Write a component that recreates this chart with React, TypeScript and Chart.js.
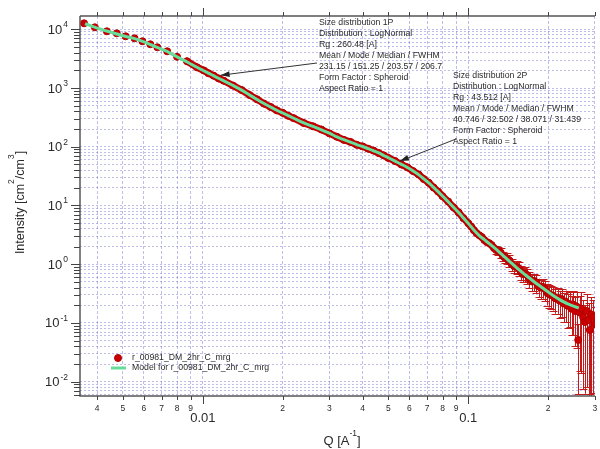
import { useEffect, useRef } from 'react';
import { Chart, registerables } from 'chart.js';

Chart.register(...registerables);

const FONT = '"Liberation Sans", Arial, Helvetica, sans-serif';

// ---- measured data (Q in 1/A, intensity in cm^2/cm^3) ----
const qLow = [0.00357, 0.00392, 0.00435, 0.00474, 0.00512, 0.00553, 0.00592, 0.00634, 0.00674, 0.00734, 0.0080, 0.00872, 0.0095, 0.0101];
const iLow = [12650, 10820, 9250, 8550, 7600, 7030, 6250, 5560, 4940, 4225, 3400, 2860, 2260, 1990];
const eLow = [0.01, 0.01, 0.01, 0.01, 0.01, 0.01, 0.01, 0.01, 0.01, 0.01, 0.01, 0.01, 0.01, 0.01];

const qMid = [0.0105, 0.011, 0.0115, 0.012, 0.013, 0.014, 0.015, 0.016, 0.017, 0.018, 0.019, 0.020, 0.021, 0.022, 0.024, 0.026, 0.028, 0.030, 0.032, 0.034, 0.036, 0.038, 0.040, 0.042, 0.044, 0.046, 0.048, 0.050, 0.053, 0.056, 0.059, 0.062, 0.065, 0.068, 0.071, 0.074, 0.077, 0.080, 0.084, 0.088, 0.092, 0.096, 0.100];
const iMid = [1790, 1620, 1450, 1330, 1100, 925, 760, 642, 543, 477, 417, 378, 336, 307, 254, 223, 196, 169, 148, 131, 121, 108, 101.5, 92.5, 86.0, 78.0, 71.5, 64.6, 57.2, 49.9, 44.6, 38.5, 33.8, 28.2, 24.4, 20.3, 17.3, 14.4, 11.7, 9.30, 7.62, 6.05, 5.00];
const eMid = [0.02, 0.02, 0.02, 0.02, 0.02, 0.02, 0.02, 0.02, 0.02, 0.02, 0.02, 0.02, 0.02, 0.02, 0.02, 0.02, 0.02, 0.02, 0.02, 0.02, 0.02, 0.02, 0.02, 0.02, 0.02, 0.02, 0.03, 0.03, 0.03, 0.03, 0.03, 0.03, 0.03, 0.03, 0.04, 0.04, 0.04, 0.04, 0.05, 0.05, 0.05, 0.06, 0.06];

const qHigh = [0.1025, 0.105, 0.1075, 0.110, 0.1125, 0.115, 0.1175, 0.120, 0.1225, 0.125, 0.1275, 0.130, 0.1325, 0.135, 0.1375, 0.140, 0.143, 0.146, 0.149, 0.152, 0.155, 0.158, 0.161, 0.164, 0.167, 0.170, 0.1735, 0.177, 0.1805, 0.184, 0.1875, 0.191, 0.1945, 0.198, 0.2015];
const iHigh = [4.40, 3.80, 3.38, 3.12, 2.90, 2.58, 2.38, 2.28, 2.12, 1.89, 1.75, 1.70, 1.58, 1.38, 1.29, 1.26, 1.16, 0.99, 0.92, 0.91, 0.85, 0.73, 0.68, 0.69, 0.65, 0.56, 0.51, 0.52, 0.49, 0.42, 0.40, 0.41, 0.38, 0.33, 0.31];
const eHigh = [0.07, 0.08, 0.08, 0.09, 0.10, 0.11, 0.12, 0.13, 0.14, 0.15, 0.16, 0.17, 0.18, 0.19, 0.20, 0.21, 0.22, 0.23, 0.24, 0.25, 0.26, 0.27, 0.28, 0.29, 0.30, 0.31, 0.32, 0.33, 0.34, 0.35, 0.36, 0.37, 0.38, 0.40, 0.41];

const qTail = [0.205, 0.209, 0.213, 0.217, 0.221, 0.225, 0.229, 0.233, 0.237, 0.241, 0.245, 0.249, 0.253, 0.256, 0.2596, 0.263, 0.267, 0.271, 0.2756, 0.280, 0.284, 0.2869, 0.291, 0.296, 0.300];
const iTail = [0.300, 0.290, 0.262, 0.270, 0.238, 0.255, 0.215, 0.230, 0.196, 0.210, 0.175, 0.205, 0.160, 0.190, 0.0513, 0.150, 0.175, 0.125, 0.104, 0.160, 0.112, 0.0759, 0.140, 0.126, 0.095];
const eTail = [0.42, 0.44, 0.45, 0.47, 0.48, 0.50, 0.52, 0.55, 0.58, 0.60, 0.65, 0.70, 0.75, 0.80, 0.88, 0.90, 0.92, 0.94, 0.94, 0.95, 0.95, 0.92, 0.96, 0.95, 0.94];

const qData = [...qLow, ...qMid, ...qHigh, ...qTail];
const iData = [...iLow, ...iMid, ...iHigh, ...iTail];
const errRel = [...eLow, ...eMid, ...eHigh, ...eTail];

// ---- model curve ----
const qModel = [0.0036, 0.004, 0.0045, 0.005, 0.0055, 0.006, 0.0065, 0.007, 0.0075, 0.008, 0.0085, 0.009, 0.0095, 0.010, 0.0105, 0.011, 0.0115, 0.012, 0.013, 0.014, 0.015, 0.016, 0.017, 0.018, 0.019, 0.020, 0.021, 0.022, 0.024, 0.026, 0.028, 0.030, 0.032, 0.034, 0.036, 0.038, 0.040, 0.042, 0.044, 0.046, 0.048, 0.050, 0.053, 0.056, 0.059, 0.062, 0.065, 0.068, 0.071, 0.074, 0.077, 0.080, 0.084, 0.088, 0.092, 0.096, 0.100, 0.105, 0.110, 0.115, 0.120, 0.125, 0.130, 0.135, 0.140, 0.146, 0.152, 0.158, 0.164, 0.170, 0.177, 0.184, 0.191, 0.198, 0.205, 0.213, 0.221, 0.229, 0.237, 0.245, 0.253, 0.261];
const iModel = [12450, 10470, 8910, 7760, 7000, 6110, 5250, 4570, 3980, 3390, 2950, 2570, 2260, 2010, 1800, 1610, 1455, 1325, 1103, 921, 763, 640, 545, 475, 419, 376, 338, 306, 255, 222, 194, 170, 147, 132, 120, 109, 101, 92.9, 85.5, 78.5, 71.1, 65.0, 56.9, 50.2, 44.3, 38.7, 33.6, 28.4, 24.2, 20.4, 17.2, 14.5, 11.6, 9.36, 7.57, 6.11, 4.96, 3.83, 3.08, 2.62, 2.24, 1.93, 1.66, 1.42, 1.22, 1.03, 0.875, 0.760, 0.662, 0.582, 0.502, 0.442, 0.393, 0.349, 0.311, 0.277, 0.250, 0.228, 0.211, 0.199, 0.189, 0.180];

// ---- axes ----
const xMin = 0.003446;
const xMax = 0.3003;
const yMin = 0.005706;
const yMax = 16850;
const xTickValues = [0.004, 0.005, 0.006, 0.007, 0.008, 0.009, 0.01, 0.02, 0.03, 0.04, 0.05, 0.06, 0.07, 0.08, 0.09, 0.1, 0.2, 0.3];
const xTickLabels = ['4', '5', '6', '7', '8', '9', '0.01', '2', '3', '4', '5', '6', '7', '8', '9', '0.1', '2', '3'];
const yDecades = [-3, -2, -1, 0, 1, 2, 3, 4];
const yMantissas = [1, 2, 3, 4, 5, 6, 7, 8, 9];
const yTicks = yDecades
  .flatMap((d) => yMantissas.map((m) => ({ value: m * Math.pow(10, d), major: m === 1 })))
  .filter((t) => t.value >= yMin && t.value <= yMax);
const yLabelDecades = [-2, -1, 0, 1, 2, 3, 4];

const legendLabels = ['r_00981_DM_2hr_C_mrg', 'Model for r_00981_DM_2hr_C_mrg'];

const annText1 = ['Size distribution 1P', 'Distribution : LogNormal', 'Rg : 260.48 [A]', 'Mean / Mode / Median / FWHM', '231.15 / 151.25 / 203.57 / 206.7', 'Form Factor : Spheroid', 'Aspect Ratio = 1'];
const annText2 = ['Size distribution 2P', 'Distribution : LogNormal', 'Rg : 43.512 [A]', 'Mean / Mode / Median / FWHM', '40.746 / 32.502 / 38.071 / 31.439', 'Form Factor : Spheroid', 'Aspect Ratio = 1'];
const annTips = [{ q: 0.01167, i: 1650 }, { q: 0.0553, i: 57 }];

const RED = '#cc0000';
const GREEN = '#66dd99';
const GRID = 'rgba(110,110,205,0.45)';
const AXIS = '#555555';
const TEXT = '#2a2a2a';

function drawParts(ctx: CanvasRenderingContext2D, parts: [string, boolean][], cx: number, y: number, mainPx: number, supPx: number, raise: number) {
  let total = 0;
  const widths = parts.map(([t, s]) => {
    ctx.font = `${s ? supPx : mainPx}px ${FONT}`;
    const w = ctx.measureText(t).width;
    total += w;
    return w;
  });
  let x = cx - total / 2;
  ctx.textAlign = 'left';
  ctx.textBaseline = 'alphabetic';
  parts.forEach(([t, s], k) => {
    ctx.font = `${s ? supPx : mainPx}px ${FONT}`;
    ctx.fillText(t, x, s ? y - raise : y);
    x += widths[k];
  });
}

function arrow(ctx: CanvasRenderingContext2D, x0: number, y0: number, x1: number, y1: number) {
  ctx.strokeStyle = '#333';
  ctx.fillStyle = '#222';
  ctx.lineWidth = 1;
  ctx.beginPath();
  ctx.moveTo(x0, y0);
  ctx.lineTo(x1, y1);
  ctx.stroke();
  const ang = Math.atan2(y1 - y0, x1 - x0);
  const L = 9;
  const W = 3;
  const bx = x1 - L * Math.cos(ang);
  const by = y1 - L * Math.sin(ang);
  ctx.beginPath();
  ctx.moveTo(x1, y1);
  ctx.lineTo(bx + W * Math.sin(ang), by - W * Math.cos(ang));
  ctx.lineTo(bx - W * Math.sin(ang), by + W * Math.cos(ang));
  ctx.closePath();
  ctx.fill();
}

const decorPlugin = {
  id: 'decor',
  beforeDatasetsDraw(chart: any) {
    const { ctx, chartArea: a } = chart;
    const xs = chart.scales.x;
    const ys = chart.scales.y;
    ctx.save();
    ctx.beginPath();
    ctx.rect(a.left, a.top, a.right - a.left, a.bottom - a.top);
    ctx.clip();
    ctx.strokeStyle = '#c41a1a';
    ctx.lineWidth = 1;
    for (let k = 0; k < qData.length; k++) {
      const v = iData[k];
      const e = v * errRel[k];
      const px = Math.round(xs.getPixelForValue(qData[k])) + 0.5;
      const top = ys.getPixelForValue(v + e);
      const bot = v - e > 0 ? ys.getPixelForValue(v - e) : a.bottom + 10;
      if (bot - top < 8) continue;
      ctx.beginPath();
      ctx.moveTo(px, top);
      ctx.lineTo(px, bot);
      ctx.moveTo(px - 4, Math.round(top) + 0.5);
      ctx.lineTo(px + 4, Math.round(top) + 0.5);
      ctx.moveTo(px - 4, Math.round(bot) + 0.5);
      ctx.lineTo(px + 4, Math.round(bot) + 0.5);
      ctx.stroke();
    }
    ctx.restore();
  },
  afterDraw(chart: any) {
    const { ctx, chartArea: a } = chart;
    const xs = chart.scales.x;
    const ys = chart.scales.y;
    ctx.save();

    // axis lines
    ctx.strokeStyle = AXIS;
    ctx.lineWidth = 1.5;
    ctx.beginPath();
    ctx.moveTo(a.left, a.top);
    ctx.lineTo(a.left, a.bottom);
    ctx.lineTo(a.right, a.bottom);
    ctx.moveTo(a.left, a.top);
    ctx.lineTo(a.right, a.top);
    ctx.stroke();

    // tick marks
    ctx.lineWidth = 1;
    ctx.strokeStyle = '#444';
    ctx.beginPath();
    xTickValues.forEach((v, k) => {
      const major = xTickLabels[k].includes('.');
      const px = Math.round(xs.getPixelForValue(v)) + 0.5;
      const len = major ? 8 : 4;
      ctx.moveTo(px, a.bottom);
      ctx.lineTo(px, a.bottom + len);
      ctx.moveTo(px, a.top);
      ctx.lineTo(px, a.top - len);
    });
    yTicks.forEach((t) => {
      const py = Math.round(ys.getPixelForValue(t.value)) + 0.5;
      const len = t.major ? 9 : 6;
      ctx.moveTo(a.left, py);
      ctx.lineTo(a.left - len, py);
    });
    ctx.stroke();

    // x tick labels
    ctx.fillStyle = TEXT;
    ctx.textAlign = 'center';
    ctx.textBaseline = 'alphabetic';
    xTickValues.forEach((v, k) => {
      const major = xTickLabels[k].includes('.');
      const px = xs.getPixelForValue(v);
      if (px > a.right + 2) return;
      ctx.font = `${major ? 13 : 8.5}px ${FONT}`;
      ctx.fillText(xTickLabels[k], px, major ? 422 : 410.5);
    });

    // y tick labels with superscript exponent
    yLabelDecades.forEach((d) => {
      const py = ys.getPixelForValue(Math.pow(10, d));
      const exp = String(d);
      ctx.font = `8.5px ${FONT}`;
      const ew = ctx.measureText(exp).width;
      const right = 68;
      ctx.textAlign = 'right';
      ctx.font = `13px ${FONT}`;
      ctx.fillText('10', right - ew - 1, py + 4.5);
      ctx.textAlign = 'left';
      ctx.font = `8.5px ${FONT}`;
      ctx.fillText(exp, right - ew, py - 2);
    });

    // axis titles
    drawParts(ctx, [['Q [A', false], ['-1', true], [']', false]], 342, 445, 13, 8.5, 9.5);
    ctx.save();
    ctx.translate(24, 202.5);
    ctx.rotate(-Math.PI / 2);
    drawParts(ctx, [['Intensity [cm', false], ['2', true], ['/cm', false], ['3', true], [']', false]], 0, 0, 12.5, 8.5, 10);
    ctx.restore();

    // legend
    ctx.fillStyle = RED;
    ctx.strokeStyle = '#aa0000';
    ctx.lineWidth = 1;
    ctx.beginPath();
    ctx.arc(118, 358, 3.5, 0, Math.PI * 2);
    ctx.fill();
    ctx.stroke();
    ctx.strokeStyle = GREEN;
    ctx.lineWidth = 3;
    ctx.beginPath();
    ctx.moveTo(111, 368);
    ctx.lineTo(126, 368);
    ctx.stroke();
    ctx.fillStyle = TEXT;
    ctx.font = `8.7px ${FONT}`;
    ctx.textAlign = 'left';
    ctx.textBaseline = 'middle';
    ctx.fillText(legendLabels[0], 132, 358);
    ctx.fillText(legendLabels[1], 132, 368);

    // annotations
    annText1.forEach((t, k) => ctx.fillText(t, 319, 23 + k * 11));
    annText2.forEach((t, k) => ctx.fillText(t, 453, 76 + k * 11));
    const t1x = xs.getPixelForValue(annTips[0].q);
    const t1y = ys.getPixelForValue(annTips[0].i);
    const t2x = xs.getPixelForValue(annTips[1].q);
    const t2y = ys.getPixelForValue(annTips[1].i);
    arrow(ctx, 317, 63, t1x, t1y);
    arrow(ctx, 456, 139, t2x, t2y);

    ctx.restore();
  },
};

export default function App() {
  const ref = useRef<HTMLCanvasElement>(null);
  useEffect(() => {
    document.body.style.margin = '0';
    const canvas = ref.current;
    if (!canvas) return;
    const chart = new Chart(canvas, {
      type: 'scatter',
      data: {
        datasets: [
          {
            label: legendLabels[0],
            data: qData.map((q, k) => ({ x: q, y: iData[k] })),
            showLine: true,
            borderColor: RED,
            borderWidth: 7,
            borderJoinStyle: 'round',
            borderCapStyle: 'round',
            segment: {
              borderColor: (c: any) => (c.p0.parsed.x >= 0.0087 && c.p1.parsed.x <= 0.2016 ? '#c80000' : 'rgba(0,0,0,0)'),
            },
            pointRadius: 3.5,
            pointBackgroundColor: RED,
            pointBorderColor: '#b00000',
            pointBorderWidth: 1,
            order: 2,
          },
          {
            label: legendLabels[1],
            data: qModel.map((q, k) => ({ x: q, y: iModel[k] })),
            showLine: true,
            borderColor: GREEN,
            borderWidth: 3,
            pointRadius: 0,
            cubicInterpolationMode: 'monotone',
            order: 1,
          },
        ],
      } as any,
      options: {
        animation: false,
        responsive: false,
        devicePixelRatio: 1,
        layout: { padding: { left: 80, top: 16, right: 0, bottom: 53 } },
        plugins: { legend: { display: false }, tooltip: { enabled: false } },
        scales: {
          x: {
            type: 'logarithmic',
            min: xMin,
            max: xMax,
            afterBuildTicks: (s: any) => {
              s.ticks = xTickValues.map((v) => ({ value: v }));
            },
            ticks: { display: false },
            grid: { color: GRID, lineWidth: 1, drawTicks: false },
            border: { display: false, dash: [3, 2] },
          },
          y: {
            type: 'logarithmic',
            min: yMin,
            max: yMax,
            afterBuildTicks: (s: any) => {
              s.ticks = yTicks.map((t) => ({ value: t.value }));
            },
            ticks: { display: false },
            grid: { color: GRID, lineWidth: 1, drawTicks: false },
            border: { display: false, dash: [2, 2] },
          },
        },
      } as any,
      plugins: [decorPlugin],
    });
    return () => chart.destroy();
  }, []);
  return (
    <div style={{ width: 600, height: 449, overflow: 'hidden', background: '#fff' }}>
      <canvas ref={ref} width={600} height={449} style={{ display: 'block' }} />
    </div>
  );
}
